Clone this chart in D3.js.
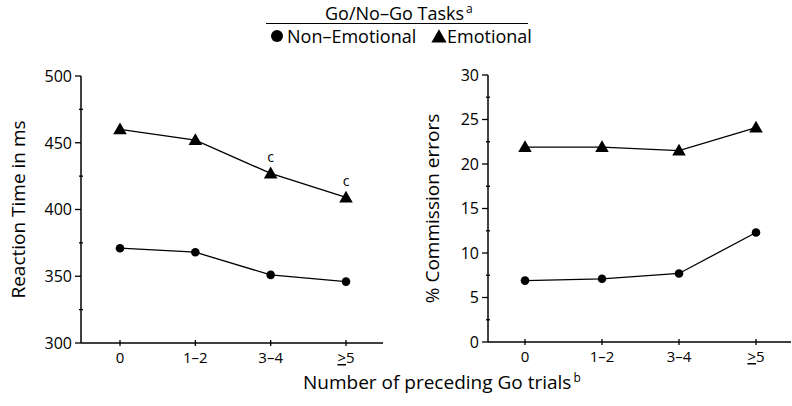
<!DOCTYPE html>
<html><head><meta charset="utf-8">
<script src="https://cdn.jsdelivr.net/npm/d3@7"></script>
<style>body{margin:0;background:#fff}svg{display:block}text{font-family:"Open Sans",sans-serif;fill:#000}</style>
</head><body>
<svg id="c" width="792" height="406"></svg>
<script>
const categories = ["0", "1-2", "3-4", ">5"];
const rtNonEmotional = [371, 368, 351, 346];
const rtEmotional = [460, 452, 427, 409];
const ceNonEmotional = [6.9, 7.1, 7.7, 12.3];
const ceEmotional = [21.9, 21.9, 21.5, 24.1];
const rtTicks = [300, 350, 400, 450, 500];
const ceTicks = [0, 5, 10, 15, 20, 25, 30];
const rtAnnot = ["", "", "c", "c"];

const svg = d3.select("#c");

function panel(o) {
  const g = svg.append("g");
  const x = d3.scalePoint().domain(categories).range([o.x0, o.x1]);
  const y = d3.scaleLinear().domain(o.domain).range([o.yBottom, o.yTop]);
  // y axis
  g.append("line").attr("x1", o.axX).attr("x2", o.axX).attr("y1", o.yTop).attr("y2", o.yBottom).attr("stroke", "#000").attr("stroke-width", 1.5);
  const minor = d3.range(o.domain[0], o.domain[1] + 1e-9, o.minorStep);
  minor.forEach(v => {
    const major = o.ticks.includes(v);
    g.append("line").attr("x1", major ? o.axX - 6 : o.axX - 2).attr("x2", o.axX + (major ? 0 : 2))
      .attr("y1", y(v)).attr("y2", y(v)).attr("stroke", "#000").attr("stroke-width", 1.3);
  });
  o.ticks.forEach(v => {
    g.append("text").attr("x", o.axX - 9).attr("y", y(v)).attr("dy", "0.36em").attr("text-anchor", "end")
      .attr("font-size", 16).text(v);
  });
  // x axis
  g.append("line").attr("x1", o.axX).attr("x2", o.axEnd).attr("y1", o.yBottom).attr("y2", o.yBottom).attr("stroke", "#000").attr("stroke-width", 1.5);
  categories.forEach(c => {
    g.append("line").attr("x1", x(c)).attr("x2", x(c)).attr("y1", o.yBottom - 3).attr("y2", o.yBottom + 3).attr("stroke", "#000").attr("stroke-width", 1.3);
    const t = g.append("text").attr("x", x(c)).attr("y", o.yBottom + 20).attr("text-anchor", "middle").attr("font-size", 15);
    if (c.startsWith(">")) {
      t.append("tspan").attr("text-decoration", "underline").text(">");
      t.append("tspan").text(c.slice(1));
    } else t.text(c.replace("-", "\u2013"));
  });
  // y title
  g.append("text").attr("transform", `translate(${o.titleX},${(o.yTop + o.yBottom) / 2}) rotate(-90)`)
    .attr("text-anchor", "middle").attr("font-size", 19).text(o.title);
  // lines
  const line = d3.line().x((d, i) => x(categories[i])).y(d => y(d));
  [o.a, o.b].forEach(s => g.append("path").attr("d", line(s)).attr("fill", "none").attr("stroke", "#000").attr("stroke-width", 1.3));
  // markers
  g.selectAll(".dot").data(o.a).enter().append("circle").attr("cx", (d, i) => x(categories[i])).attr("cy", d => y(d)).attr("r", 4.3).attr("fill", "#000");
  const tri = d3.symbol().type(d3.symbolTriangle).size(80);
  g.selectAll(".tri").data(o.b).enter().append("path").attr("d", tri)
    .attr("transform", (d, i) => `translate(${x(categories[i])},${y(d) + 1})`).attr("fill", "#000");
  if (o.annot) {
    o.b.forEach((d, i) => {
      if (o.annot[i]) g.append("text").attr("x", x(categories[i])).attr("y", y(d) - 11).attr("text-anchor", "middle").attr("font-size", 14).text(o.annot[i]);
    });
  }
}

panel({x0: 120, x1: 346, axX: 81, axEnd: 383, yTop: 76, yBottom: 343, domain: [300, 500], ticks: rtTicks, minorStep: 25,
  a: rtNonEmotional, b: rtEmotional, annot: rtAnnot, title: "Reaction Time in ms", titleX: 25});
panel({x0: 525, x1: 756, axX: 488, axEnd: 791, yTop: 75, yBottom: 342, domain: [0, 30], ticks: ceTicks, minorStep: 2.5,
  a: ceNonEmotional, b: ceEmotional, title: "% Commission errors", titleX: 439});

// legend
const lt = svg.append("text").attr("x", 325).attr("y", 20).attr("font-size", 18);
lt.append("tspan").text("Go/No\u2013Go Tasks");
lt.append("tspan").attr("font-size", 12).attr("dy", -7).attr("dx", 2).text("a");
svg.append("line").attr("x1", 266).attr("x2", 528).attr("y1", 23.5).attr("y2", 23.5).attr("stroke", "#000").attr("stroke-width", 1);
svg.append("circle").attr("cx", 277).attr("cy", 36).attr("r", 6).attr("fill", "#000");
svg.append("text").attr("x", 287).attr("y", 42.5).attr("font-size", 18).text("Non\u2013Emotional");
svg.append("path").attr("d", d3.symbol().type(d3.symbolTriangle).size(100)).attr("transform", "translate(439,38)").attr("fill", "#000");
svg.append("text").attr("x", 447).attr("y", 42.5).attr("font-size", 18).text("Emotional");

// x title
const xt = svg.append("text").attr("x", 303).attr("y", 389).attr("font-size", 19);
xt.append("tspan").text("Number of preceding Go trials");
xt.append("tspan").attr("font-size", 12).attr("dy", -7).attr("dx", 2).text("b");
</script>
</body></html>
